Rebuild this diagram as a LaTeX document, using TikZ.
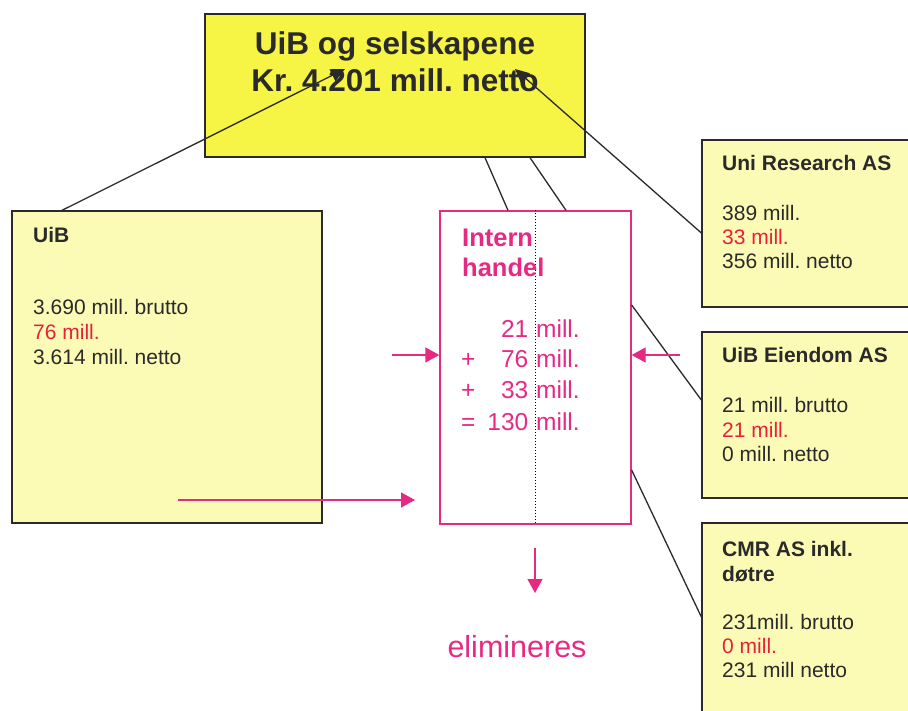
\documentclass[tikz,border=0pt]{standalone}
\usepackage{fontspec}
\setmainfont{Liberation Sans}
\frenchspacing
\usetikzlibrary{arrows.meta,calc}
\definecolor{topyel}{HTML}{F6F445}
\definecolor{lightyel}{HTML}{FCFBB6}
\definecolor{mag}{HTML}{E62A84}
\definecolor{redtxt}{HTML}{E8203A}
\definecolor{darkln}{HTML}{2A2A2A}
\begin{document}
\begin{tikzpicture}[x=1pt,y=-1pt,
  boxstyle/.style={draw=darkln, line width=1.3pt, fill=lightyel, inner sep=0},
  txt/.style={anchor=base west, inner sep=0, text=darkln, font=\fontsize{21}{25}\selectfont},
  btxt/.style={txt, font=\fontsize{21}{25}\selectfont\bfseries},
  rtxt/.style={txt, text=redtxt},
  mtxt/.style={inner sep=0, text=mag, font=\fontsize{24.5}{30}\selectfont},
  conn/.style={draw=darkln, line width=1.3pt},
  blackarrow/.style={conn, -{Triangle[length=14pt,width=13pt]}},
  pinkarrow/.style={draw=mag, line width=1.3pt, -{Triangle[length=14pt,width=15pt]}}
]
\useasboundingbox (0,0) rectangle (908,711);
\clip (0,0) rectangle (908,711);
\fill[white] (0,0) rectangle (908,711);

% top box
\node[draw=darkln, line width=1.3pt, fill=topyel, minimum width=380pt, minimum height=143pt, inner sep=0] (top) at (395,85.5) {};
\node[anchor=base, inner sep=0, text=darkln, font=\fontsize{31.5}{37}\selectfont\bfseries] (t1) at (395,55) {UiB og selskapene};
\node[anchor=base, inner sep=0, text=darkln, font=\fontsize{31.5}{37}\selectfont\bfseries] (t2) at (395,92) {Kr. 4.201 mill. netto};

% UiB box
\node[boxstyle, minimum width=310pt, minimum height=312pt] (uib) at (167,367) {};
\node[btxt] (uib1) at (33,243) {UiB};
\node[txt] (uib2) at (33,315) {3.690 mill. brutto};
\node[rtxt] (uib3) at (33,340) {76 mill.};
\node[txt] (uib4) at (33,365) {3.614 mill. netto};

% Intern box
\node[draw=mag, line width=1.3pt, fill=white, minimum width=191pt, minimum height=313pt, inner sep=0] (intern) at (535.5,367.5) {};
\draw[black, line width=1pt, dotted] ([xshift=-0.5pt]intern.north) -- ([xshift=-0.5pt]intern.south);
\node[mtxt, anchor=base west, font=\fontsize{25.5}{30}\selectfont\bfseries] (in1) at (462,247) {Intern};
\node[mtxt, anchor=base west, font=\fontsize{25.5}{30}\selectfont\bfseries] (in2) at (462,277) {handel};
\node[mtxt, anchor=base east] (n1) at (528.5,338) {21};
\node[mtxt, anchor=base east] (n2) at (528.5,368) {76};
\node[mtxt, anchor=base east] (n3) at (528.5,399) {33};
\node[mtxt, anchor=base east] (n4) at (528.5,430) {130};
\node[mtxt, anchor=base west] (m1) at (536,338) {mill.};
\node[mtxt, anchor=base west] (m2) at (536,368) {mill.};
\node[mtxt, anchor=base west] (m3) at (536,399) {mill.};
\node[mtxt, anchor=base west] (m4) at (536,430) {mill.};
\node[mtxt, anchor=base west] (p2) at (461,368) {+};
\node[mtxt, anchor=base west] (p3) at (461,399) {+};
\node[mtxt, anchor=base west] (p4) at (461,430) {=};

% right boxes
\node[boxstyle, minimum width=213pt, minimum height=167pt] (uni) at (808.5,223.5) {};
\node[btxt] (uni1) at (722,170.5) {Uni Research AS};
\node[txt] (uni2) at (722,220.5) {389 mill.};
\node[rtxt] (uni3) at (722,244.5) {33 mill.};
\node[txt] (uni4) at (722,269) {356 mill. netto};

\node[boxstyle, minimum width=213pt, minimum height=166pt] (eien) at (808.5,415) {};
\node[btxt] (eien1) at (722,362.5) {UiB Eiendom AS};
\node[txt] (eien2) at (722,412.5) {21 mill. brutto};
\node[rtxt] (eien3) at (722,437) {21 mill.};
\node[txt] (eien4) at (722,461) {0 mill. netto};

\node[boxstyle, minimum width=213pt, minimum height=197pt] (cmr) at (808.5,621.5) {};
\node[btxt] (cmr1) at (722,556.5) {CMR AS inkl.};
\node[btxt] (cmr2) at (722,581) {døtre};
\node[txt] (cmr3) at (722,629.5) {231mill. brutto};
\node[rtxt] (cmr4) at (722,653) {0 mill.};
\node[txt] (cmr5) at (722,677.5) {231 mill netto};

% elimineres
\node[inner sep=0, anchor=base, text=mag, font=\fontsize{30.5}{36}\selectfont] (elim) at (517,657) {elimineres};

% connectors
\coordinate (tipA) at (345,69);
\coordinate (tipB) at (515,69);
\draw[blackarrow] ([xshift=-105pt]uib.north) -- (tipA);
\draw[blackarrow] ([yshift=-9.5pt]uni.west) -- (tipB);
\draw[conn] ([xshift=90pt]top.south) -- ([xshift=-27.5pt]intern.north);
\draw[conn] ([xshift=135pt]top.south) -- ([xshift=30.5pt]intern.north);
\draw[conn] ([yshift=62.5pt]intern.east) -- ([yshift=15pt]eien.west);
\draw[conn] ([yshift=-102.5pt]intern.east) -- ([yshift=4.5pt]cmr.west);

% pink arrows
\coordinate (la) at (392,355);
\coordinate (ra) at (680,355);
\coordinate (ba1) at (178,500);
\coordinate (ba2) at (415,500);
\coordinate (da1) at (535,548);
\coordinate (da2) at (535,593);
\draw[pinkarrow] (la) -- ([yshift=12.5pt]intern.west);
\draw[pinkarrow] (ra) -- ([yshift=12.5pt]intern.east);
\draw[pinkarrow] (ba1) -- (ba2);
\draw[pinkarrow] (da1) -- (da2);
\end{tikzpicture}
\end{document}
